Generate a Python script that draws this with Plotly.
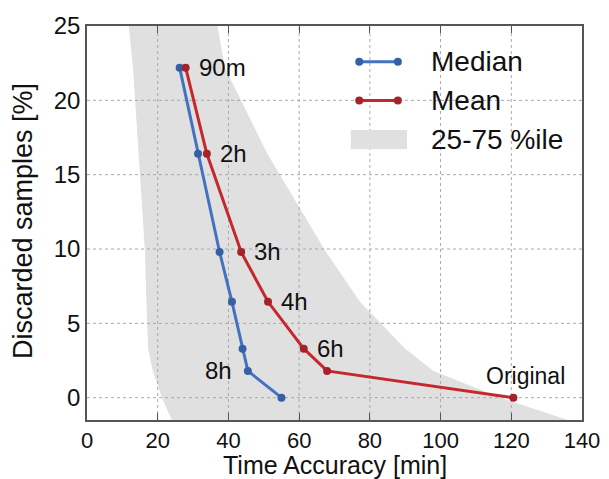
import plotly.graph_objects as go

# ---- data ----
labels = ["90m", "2h", "3h", "4h", "6h", "8h", "Original"]
discarded = [22.2, 16.4, 9.8, 6.45, 3.3, 1.8, 0.0]
median_acc = [26.2, 31.4, 37.5, 41.0, 44.0, 45.5, 55.0]
mean_acc = [27.9, 33.9, 43.6, 51.2, 61.3, 67.9, 120.6]

band_y = [25.0, 22.2, 16.4, 9.8, 6.45, 3.3, 1.8, 0.0, -1.5]
band_lo = [11.8, 13.0, 14.6, 16.4, 16.8, 17.3, 18.6, 21.2, 24.0]
band_hi = [36.9, 39.0, 51.0, 67.6, 77.2, 90.0, 98.0, 117.0, 136.0]

x_ticks = [0, 20, 40, 60, 80, 100, 120, 140]
y_ticks = [0, 5, 10, 15, 20, 25]
x_range = [0, 140]
y_range = [-1.5, 25]

BLUE = "#4272c0"
BLUE_M = "#3560a6"
RED = "#c4282d"
RED_M = "#a52228"
GRAY = "#e0e0e0"
FONT = "Liberation Sans, Arial, sans-serif"
TXT = "#111111"

fig = go.Figure()

# percentile band
fig.add_trace(go.Scatter(
    x=band_lo + band_hi[::-1],
    y=band_y + band_y[::-1],
    fill="toself", fillcolor=GRAY, mode="lines",
    line=dict(width=0, color=GRAY), hoverinfo="skip", showlegend=False))

# dotted grid drawn above the band
gx, gy = [], []
for t in x_ticks[1:-1]:
    gx += [t, t, None]
    gy += [y_range[0], y_range[1], None]
for t in y_ticks[:-1]:
    gx += [x_range[0], x_range[1], None]
    gy += [t, t, None]
fig.add_trace(go.Scatter(x=gx, y=gy, mode="lines",
                         line=dict(color="#a8a8a8", width=1, dash="dot"),
                         hoverinfo="skip", showlegend=False))

fig.add_trace(go.Scatter(
    x=median_acc, y=discarded, mode="lines+markers", name="Median",
    line=dict(color=BLUE, width=3),
    marker=dict(color=BLUE_M, size=8), showlegend=False))
fig.add_trace(go.Scatter(
    x=mean_acc, y=discarded, mode="lines+markers", name="Mean",
    line=dict(color=RED, width=3),
    marker=dict(color=RED_M, size=8), showlegend=False))

# point labels
ann = []
for i, lab in enumerate(labels):
    if lab == "8h":
        ann.append(dict(x=median_acc[i], y=discarded[i], text=lab, showarrow=False,
                        xanchor="right", yanchor="middle", xshift=-14,
                        font=dict(size=24, color=TXT, family=FONT)))
    elif lab == "Original":
        ann.append(dict(x=mean_acc[i], y=discarded[i], text=lab, showarrow=False,
                        xanchor="center", yanchor="bottom", xshift=12, yshift=7,
                        font=dict(size=23, color=TXT, family=FONT)))
    else:
        ann.append(dict(x=mean_acc[i], y=discarded[i], text=lab, showarrow=False,
                        xanchor="left", yanchor="middle", xshift=11,
                        font=dict(size=24, color=TXT, family=FONT)))

# manual legend (paper coordinates)
shapes = []
leg = [("Median", BLUE, BLUE_M, 0.909), ("Mean", RED, RED_M, 0.811)]
lx0, lx1 = 0.550, 0.628
for name, lc, mc, yy in leg:
    shapes.append(dict(type="line", xref="paper", yref="paper", x0=lx0, x1=lx1,
                       y0=yy, y1=yy, line=dict(color=lc, width=3)))
    for xx in (lx0, lx1):
        shapes.append(dict(type="circle", xref="paper", yref="paper",
                           xsizemode="pixel", ysizemode="pixel",
                           xanchor=xx, yanchor=yy, x0=-4, x1=4, y0=-4, y1=4,
                           fillcolor=mc, line=dict(width=0)))
    ann.append(dict(xref="paper", yref="paper", x=0.6915, y=yy, text=name,
                    showarrow=False, xanchor="left", yanchor="middle",
                    font=dict(size=28, color=TXT, family=FONT)))
shapes.append(dict(type="rect", xref="paper", yref="paper", x0=0.533, x1=0.6465,
                   y0=0.688, y1=0.736, fillcolor=GRAY, line=dict(width=0)))
ann.append(dict(xref="paper", yref="paper", x=0.6915, y=0.713, text="25-75 %ile",
                showarrow=False, xanchor="left", yanchor="middle",
                font=dict(size=28, color=TXT, family=FONT)))

# axis titles
ann.append(dict(xref="paper", yref="paper", x=0.5, y=0, yshift=-45,
                text="Time Accuracy [min]", showarrow=False,
                xanchor="center", yanchor="middle",
                font=dict(size=25, color=TXT, family=FONT)))
ann.append(dict(xref="paper", yref="paper", x=0, y=0.505, xshift=-64,
                text="Discarded samples [%]", showarrow=False, textangle=-90,
                xanchor="center", yanchor="middle",
                font=dict(size=27, color=TXT, family=FONT)))

fig.update_layout(
    width=609, height=479,
    margin=dict(l=87, r=27, t=26, b=59, autoexpand=False),
    paper_bgcolor="white", plot_bgcolor="white",
    font=dict(family=FONT, color=TXT),
    annotations=ann, shapes=shapes,
    showlegend=False,
)
fig.update_xaxes(
    range=x_range, tickvals=x_ticks, showgrid=False, zeroline=False,
    showline=True, linecolor="#555", linewidth=1.5, mirror="ticks",
    ticks="inside", ticklen=7, tickcolor="#555", tickwidth=1.2,
    tickfont=dict(size=22, family=FONT, color=TXT), automargin=False,
)
fig.update_yaxes(
    range=y_range, tickvals=y_ticks, showgrid=False, zeroline=False,
    showline=True, linecolor="#555", linewidth=1.5, mirror=True,
    ticks="", tickfont=dict(size=24, family=FONT, color=TXT), automargin=False,
)

fig.write_html("out.html")
